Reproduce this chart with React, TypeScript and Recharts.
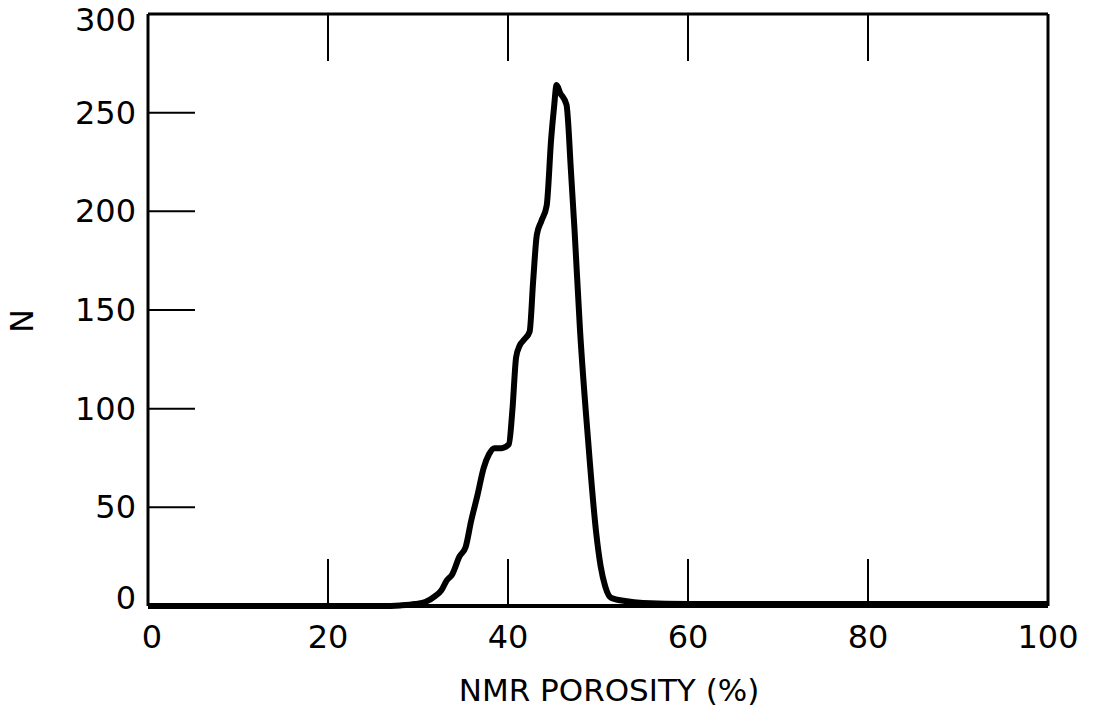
import { LineChart, Line, XAxis, YAxis } from 'recharts'

const porosity = [
  0, 10, 20, 26, 28, 29.7, 30.8, 31.9, 32.6, 33.2, 33.8, 34.6, 35.3, 35.9, 36.6,
  37.3, 37.9, 38.5, 39.3, 40.1, 40.5, 40.9, 41.3, 41.8, 42.4, 42.8, 43.2, 43.7,
  44.3, 44.8, 45.1, 45.4, 45.8, 46.5, 47.0, 47.4, 48.0, 48.9, 49.8, 50.3, 50.8,
  51.5, 53, 55, 60, 70, 80, 90, 100,
]
const counts = [
  0, 0, 0, 0, 0.3, 1, 2, 5, 8, 13, 16, 25, 30, 43, 56,
  70, 77, 80, 80, 82, 100, 126, 132, 135, 139, 165, 188, 195,
  203, 237, 252, 264, 260, 254, 220, 190, 140, 84, 37, 20, 10,
  4, 2.5, 1.5, 1, 1, 1, 1, 1,
]
const xTicks = [0, 20, 40, 60, 80, 100]
const yTicks = [0, 50, 100, 150, 200, 250, 300]

const data = porosity.map((p, i) => ({ p, n: counts[i] }))

const FONT = '"DejaVu Sans", sans-serif'
const TICK_LEN = 47

function BottomTick({ x, y, payload }: any) {
  const v = payload.value
  const inner = v !== 0 && v !== 100
  return (
    <g>
      {inner && <line x1={x} y1={y} x2={x} y2={y - TICK_LEN} stroke="#000" strokeWidth={2} />}
      <text x={x + (v === 0 ? 4 : 0)} y={y + 31} textAnchor="middle" dominantBaseline="central"
        fontFamily={FONT} fontSize={32} fill="#000">
        {v}
      </text>
    </g>
  )
}

function TopTick({ x, y, payload }: any) {
  const v = payload.value
  if (v === 0 || v === 100) return <g />
  return <line x1={x} y1={y} x2={x} y2={y + TICK_LEN} stroke="#000" strokeWidth={2} />
}

function LeftTick({ x, y, payload }: any) {
  const v = payload.value
  const inner = v !== 0 && v !== 300
  const shift = v === 0 ? -8 : v === 300 ? 6 : 0
  return (
    <g>
      {inner && <line x1={x} y1={y} x2={x + TICK_LEN} y2={y} stroke="#000" strokeWidth={2} />}
      <text x={x - 12} y={y + shift} textAnchor="end" dominantBaseline="central"
        fontFamily={FONT} fontSize={32} fill="#000">
        {v}
      </text>
    </g>
  )
}

function RightTick({ x, y, payload }: any) {
  const v = payload.value
  if (v === 0 || v === 300) return <g />
  return <line x1={x} y1={y} x2={x - TICK_LEN} y2={y} stroke="#000" strokeWidth={2} />
}

export default function App() {
  return (
    <div style={{ position: 'absolute', left: 0, top: 0, background: '#fff' }}>
      <LineChart
        width={1095}
        height={711}
        data={data}
        margin={{ top: 4, right: 27, bottom: 45, left: 48 }}
      >
        <XAxis
          dataKey="p"
          type="number"
          domain={[0, 100]}
          ticks={xTicks}
          height={60}
          tickSize={0}
          tickMargin={0}
          tickLine={false}
          axisLine={{ stroke: '#000', strokeWidth: 4 }}
          tick={<BottomTick />}
          label={{
            content: () => (
              <text x={609} y={690} textAnchor="middle" dominantBaseline="central"
                fontFamily={FONT} fontSize={31} fill="#000">
                NMR POROSITY (%)
              </text>
            ),
          }}
        />
        <XAxis
          xAxisId="top"
          orientation="top"
          dataKey="p"
          type="number"
          domain={[0, 100]}
          ticks={xTicks}
          height={10}
          tickSize={0}
          tickMargin={0}
          tickLine={false}
          axisLine={{ stroke: '#000', strokeWidth: 3 }}
          tick={<TopTick />}
        />
        <YAxis
          type="number"
          domain={[0, 300]}
          ticks={yTicks}
          width={100}
          tickSize={0}
          tickMargin={0}
          tickLine={false}
          axisLine={{ stroke: '#000', strokeWidth: 3 }}
          tick={<LeftTick />}
          label={{
            content: () => (
              <text x={22} y={321} textAnchor="middle" dominantBaseline="central"
                transform="rotate(-90 22 321)" fontFamily={FONT} fontSize={32} fill="#000">
                N
              </text>
            ),
          }}
        />
        <YAxis
          yAxisId="right"
          orientation="right"
          type="number"
          domain={[0, 300]}
          ticks={yTicks}
          width={20}
          tickSize={0}
          tickMargin={0}
          tickLine={false}
          axisLine={{ stroke: '#000', strokeWidth: 3 }}
          tick={<RightTick />}
        />
        <Line
          type="monotone"
          dataKey="n"
          stroke="#000"
          strokeWidth={6}
          strokeLinejoin="round"
          dot={false}
          isAnimationActive={false}
        />
      </LineChart>
    </div>
  )
}
